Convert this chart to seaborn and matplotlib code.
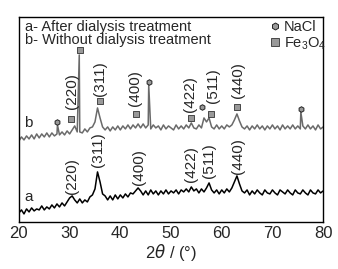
import numpy as np
import pandas as pd
import matplotlib
matplotlib.use("Agg")
import matplotlib.pyplot as plt
from matplotlib.lines import Line2D
import seaborn as sns

sns.set_style("white")
plt.rcParams['font.family'] = ['Liberation Sans', 'DejaVu Sans']
plt.rcParams['mathtext.default'] = 'regular'

# scan grid (2theta, deg) and intensities (arb. units)
two_theta = np.arange(20, 80.01, 0.5)

intensity_a = [
    9, 12, 8, 13, 10, 14, 11, 13, 12, 16, 12, 15, 13, 17, 14, 18, 15, 19, 16, 20,
    24, 26, 22, 19, 23, 19, 22, 20, 25, 27, 33, 50, 40, 28, 26, 22, 26, 22, 27, 23,
    27, 24, 28, 25, 29, 28, 31, 34, 31, 27, 31, 27, 32, 28, 31, 27, 31, 28, 32, 28,
    31, 29, 32, 28, 32, 30, 33, 30, 35, 31, 33, 29, 33, 30, 34, 39, 32, 29, 32, 28,
    32, 29, 33, 30, 34, 40, 46, 38, 31, 29, 32, 27, 31, 28, 32, 29, 27, 32, 29, 28,
    32, 29, 27, 32, 30, 28, 32, 29, 27, 32, 29, 28, 32, 29, 27, 32, 29, 28, 32, 29,
    31,
]

intensity_b = [
    81, 85, 82, 86, 83, 87, 83, 88, 84, 88, 85, 89, 85, 89, 86, 88, 87, 90, 87, 91,
    88, 92, 96, 90, 90, 89, 93, 90, 94, 95, 100, 114, 104, 95, 92, 95, 91, 95, 92, 96,
    92, 96, 93, 97, 93, 97, 94, 98, 94, 98, 94, 97, 93, 97, 94, 96, 92, 97, 93, 96,
    94, 92, 97, 93, 96, 93, 97, 94, 99, 94, 93, 97, 94, 104, 100, 104, 95, 93, 97, 93,
    96, 93, 97, 95, 97, 102, 108, 101, 95, 93, 96, 92, 96, 93, 97, 93, 96, 92, 96, 93,
    97, 93, 96, 92, 97, 93, 96, 93, 97, 93, 96, 93, 96, 93, 97, 93, 96, 92, 97, 93,
    95,
]

# sharp NaCl reflections on curve b
spike_2theta = [27.6, 31.9, 45.6, 75.6]
spike_height = [97, 167, 137, 110]

# reflection labels
hkl = ['(220)', '(311)', '(400)', '(422)', '(511)', '(440)']
hkl_x_a = [30.4, 35.6, 43.7, 53.9, 57.5, 63.2]
hkl_y_a = [28, 55, 37, 40, 44, 48]
hkl_x_b = [30.4, 36.0, 42.8, 53.8, 58.2, 63.2]
hkl_y_b = [113, 126, 116, 110, 119, 124]

fe3o4_x = [30.3, 32.0, 36.0, 43.1, 53.9, 57.9, 63.0]
fe3o4_y = [103, 172, 121, 108, 104, 108, 115]
nacl_x = [27.6, 45.6, 56.1, 75.6]
nacl_y = [100, 140, 115, 113]

df_a = pd.DataFrame({'two_theta': two_theta, 'intensity': intensity_a})
df_b = pd.concat([pd.DataFrame({'two_theta': two_theta, 'intensity': intensity_b}),
                  pd.DataFrame({'two_theta': spike_2theta, 'intensity': spike_height})])
df_b = df_b.sort_values('two_theta')

fig = plt.figure(figsize=(3.38, 2.69), dpi=100)
ax = fig.add_axes([0.056, 0.175, 0.9, 0.762])

sns.lineplot(data=df_b, x='two_theta', y='intensity', color='#6a6a6a', lw=1.1,
             estimator=None, sort=False, ax=ax)
sns.lineplot(data=df_a, x='two_theta', y='intensity', color='black', lw=1.1,
             estimator=None, sort=False, ax=ax)

ax.scatter(fe3o4_x, fe3o4_y, marker='s', s=22, color='#999999', edgecolor='#333333',
           linewidth=0.6, zorder=5)
ax.scatter(nacl_x, nacl_y, marker='h', s=16, color='#999999', edgecolor='#222222',
           linewidth=0.7, zorder=5)

for lab, xa, ya, xb, yb in zip(hkl, hkl_x_a, hkl_y_a, hkl_x_b, hkl_y_b):
    ax.text(xa, ya, lab, rotation=90, ha='center', va='bottom', fontsize=11)
    ax.text(xb, yb, lab, rotation=90, ha='center', va='bottom', fontsize=11)

ax.text(21.0, 25, 'a', fontsize=11, va='center')
ax.text(21.0, 99, 'b', fontsize=11, va='center')

ax.text(0.02, 0.985, 'a- After dialysis treatment\nb- Without dialysis treatment',
        transform=ax.transAxes, fontsize=10.5, va='top', ha='left', linespacing=0.95)

handles = [Line2D([], [], ls='none', marker='h', ms=5, mfc='#999999', mec='#222222', mew=0.7),
           Line2D([], [], ls='none', marker='s', ms=6, mfc='#999999', mec='#333333', mew=0.6)]
ax.legend(handles, ['NaCl', 'Fe$_3$O$_4$'], loc='upper right', bbox_to_anchor=(1.02, 1.0),
          frameon=False, fontsize=10.5, handlelength=0.6, handletextpad=0.3,
          labelspacing=0.1, borderaxespad=0.1, borderpad=0.1)

ax.set_xlim(20, 80)
ax.set_ylim(0, 205)
ax.set_xticks(range(20, 81, 10))
ax.set_xticks(range(25, 80, 10), minor=True)
ax.set_yticks([])
ax.tick_params(axis='x', which='both', direction='in', labelsize=12, pad=3)
ax.tick_params(axis='x', which='major', length=4, width=1)
ax.tick_params(axis='x', which='minor', length=3, width=1)
ax.set_xlabel(r'2$\mathit{\theta}$ / (°)', fontsize=12, labelpad=1)
ax.set_ylabel('')
for sp in ax.spines.values():
    sp.set_color('black')
    sp.set_linewidth(1)

fig.savefig('out.png', dpi=100)
